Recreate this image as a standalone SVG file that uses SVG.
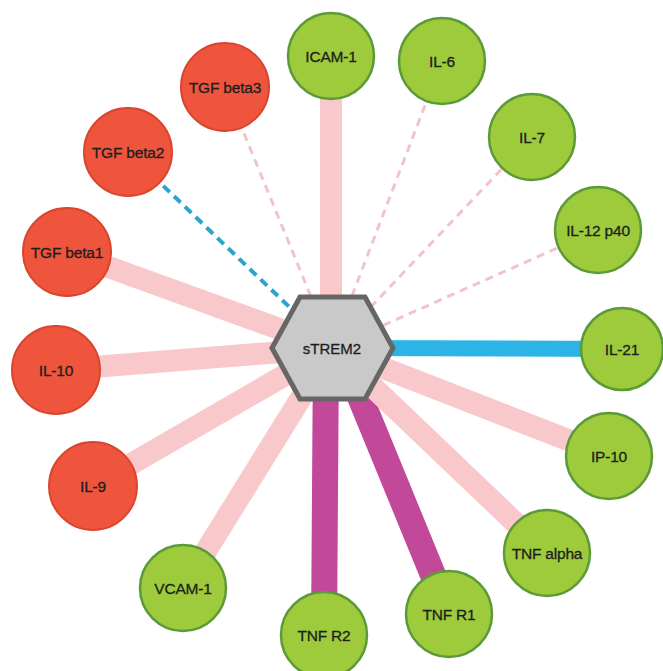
<svg xmlns="http://www.w3.org/2000/svg" width="663" height="671" viewBox="0 0 663 671">
<style>
.bg{fill:#ffffff}
.e{fill:none;stroke-linecap:butt}
.pk{stroke:#f8c8cb;stroke-width:22}
.mg{stroke:#c2489a;stroke-width:26}
.bl{stroke:#2cb4e6;stroke-width:16}
.dp{stroke:#f2c4c8;stroke-width:3;stroke-dasharray:8 6}
.db{stroke:#2ea3cc;stroke-width:4;stroke-dasharray:9 6}
.r{fill:#ef553d;stroke:#d9452f;stroke-width:2}
.g{fill:#9dcb3b;stroke:#5b9a38;stroke-width:2.5}
.hex{fill:#c9c9c9;stroke:#666666;stroke-width:5;stroke-linejoin:miter}
text{font-family:"Liberation Sans",Arial,sans-serif;font-size:15.5px;letter-spacing:-0.2px;fill:#1e1e1e;stroke:#1e1e1e;stroke-width:0.3;text-anchor:middle;dominant-baseline:central}
.c{font-size:15px;letter-spacing:0}
</style>
<rect class="bg" x="0" y="0" width="663" height="671"/>
<g id="connectors">
<line class="e dp" x1="332" y1="348" x2="225" y2="87"/>
<line class="e db" x1="332" y1="348" x2="128" y2="152"/>
<line class="e pk" x1="332" y1="348" x2="67" y2="252"/>
<line class="e pk" x1="332" y1="348" x2="56" y2="370"/>
<line class="e pk" x1="332" y1="348" x2="93" y2="486"/>
<line class="e pk" x1="332" y1="348" x2="183" y2="588"/>
<line class="e mg" x1="326" y1="348" x2="324" y2="635"/>
<line class="e mg" x1="340" y1="348" x2="449" y2="614"/>
<line class="e pk" x1="332" y1="348" x2="547" y2="553"/>
<line class="e pk" x1="332" y1="348" x2="609" y2="456"/>
<line class="e bl" x1="332" y1="348" x2="622" y2="349"/>
<line class="e dp" x1="332" y1="348" x2="598" y2="230"/>
<line class="e dp" x1="332" y1="348" x2="532" y2="137"/>
<line class="e dp" x1="332" y1="348" x2="442" y2="61"/>
<line class="e pk" x1="331" y1="348" x2="331" y2="56"/>
</g>
<g id="node-icam1"><circle class="g" cx="331" cy="56" r="43"/><text x="331" y="56">ICAM-1</text></g>
<g id="node-il6"><circle class="g" cx="442" cy="61" r="43"/><text x="442" y="61">IL-6</text></g>
<g id="node-il7"><circle class="g" cx="532" cy="137" r="43"/><text x="532" y="137">IL-7</text></g>
<g id="node-il12p40"><circle class="g" cx="598" cy="230" r="43"/><text x="598" y="230">IL-12 p40</text></g>
<g id="node-il21"><circle class="g" cx="622" cy="349" r="41"/><text x="622" y="349">IL-21</text></g>
<g id="node-ip10"><circle class="g" cx="609" cy="456" r="43"/><text x="609" y="456">IP-10</text></g>
<g id="node-tnfalpha"><circle class="g" cx="547" cy="553" r="43"/><text x="547" y="553">TNF alpha</text></g>
<g id="node-tnfr1"><circle class="g" cx="449" cy="614" r="43"/><text x="449" y="614">TNF R1</text></g>
<g id="node-tnfr2"><circle class="g" cx="324" cy="635" r="43"/><text x="324" y="635">TNF R2</text></g>
<g id="node-vcam1"><circle class="g" cx="183" cy="588" r="43"/><text x="183" y="588">VCAM-1</text></g>
<g id="node-il9"><circle class="r" cx="93" cy="486" r="44"/><text x="93" y="486">IL-9</text></g>
<g id="node-il10"><circle class="r" cx="56" cy="370" r="44"/><text x="56" y="370">IL-10</text></g>
<g id="node-tgfbeta1"><circle class="r" cx="67" cy="252" r="44"/><text x="67" y="252">TGF beta1</text></g>
<g id="node-tgfbeta2"><circle class="r" cx="128" cy="152" r="44"/><text x="128" y="152">TGF beta2</text></g>
<g id="node-tgfbeta3"><circle class="r" cx="225" cy="87" r="44"/><text x="225" y="87">TGF beta3</text></g>
<g id="node-strem2"><polygon class="hex" points="272,348 300,297 365,297 393,348 365,399 300,399"/><text class="c" x="332" y="348">sTREM2</text></g>
</svg>
